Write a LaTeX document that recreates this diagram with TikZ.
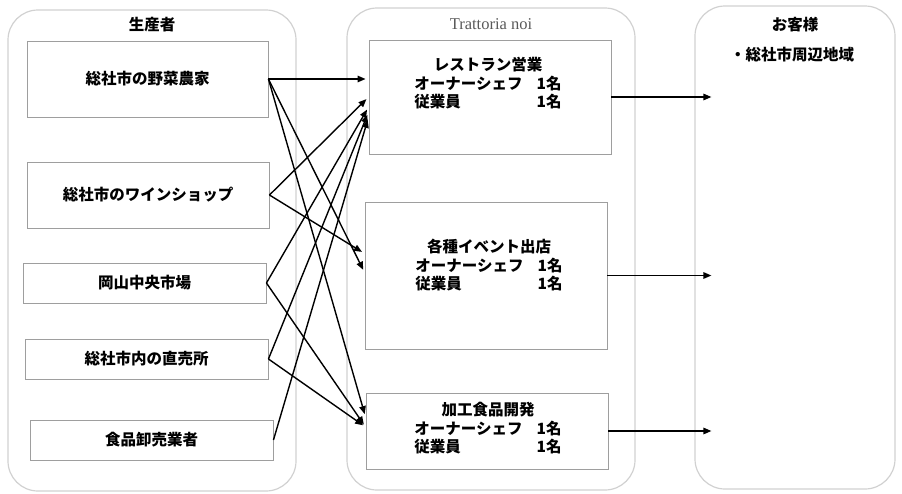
\documentclass[tikz,border=0pt]{standalone}
\usepackage{fontspec}
\setmainfont{Liberation Serif}
\newfontfamily\jpfont{Noto Sans CJK JP}
\usepackage{tikz}
\usetikzlibrary{calc,arrows.meta}
\def\jptext{\jpfont\bfseries\fontsize{15.5}{16.5}\selectfont}

\tikzset{
	group/.style={draw=black!18, line width=1.2pt, rounded corners=30pt},
	srcbox/.style={draw=black!38, line width=0.9pt, font=\jptext},
	actbox/.style={draw=black!38, line width=0.9pt, minimum width=242pt},
	flow/.style={line width=1.4pt, shorten >=3pt, -{Triangle[length=8pt,width=6.5pt]}}
}

\begin{document}
\begin{tikzpicture}[x=1pt, y=-1pt]
			%%%%% START %%%%%
			\useasboundingbox (0, 0) rectangle (902, 493);
			
			\node[group, minimum width=288pt, minimum height=481pt] (prod) at (152, 250.5) {};
			\node[group, minimum width=288pt, minimum height=482pt] (shop) at (491, 249) {};
			\node[group, minimum width=200pt, minimum height=483pt] (cust) at (795, 247.5) {};
			
			\node[font=\jptext] (prodTitle) at (152, 25) {生産者};
			\node[font=\fontsize{16.5}{18}\selectfont, text=black!65] (shopTitle) at (491, 24) {Trattoria noi};
			\node[font=\jptext] (custTitle) at (795, 25) {お客様};
			\node[font=\jptext] (custArea) at (792, 55) {・総社市周辺地域};
			
			\node[srcbox, minimum width=241pt, minimum height=76pt] (farm) at (147.5, 79) {総社市の野菜農家};
			\node[srcbox, minimum width=242pt, minimum height=66pt] (wine) at (148, 195) {総社市のワインショップ};
			\node[srcbox, minimum width=243pt, minimum height=40pt] (market) at (144.5, 283) {岡山中央市場};
			\node[srcbox, minimum width=243pt, minimum height=40pt] (direct) at (146.5, 359) {総社市内の直売所};
			\node[srcbox, minimum width=243pt, minimum height=40pt] (whole) at (151.5, 440) {食品卸売業者};
			
			\node[actbox, minimum height=114pt] (rest) at (490, 97) {};
			\node[actbox, minimum height=147pt] (event) at (486, 275.5) {};
			\node[actbox, minimum height=76pt] (proc) at (487, 431) {};
			
			\node[font=\jptext] (restTxt) at (488, 85) {\begin{tabular}{@{}l@{\hspace{14pt}}l@{}}
				\multicolumn{2}{c}{レストラン営業}\\ オーナーシェフ & 1名\\ 従業員 & 1名\end{tabular}};
			\node[font=\jptext] (eventTxt) at (489, 267) {\begin{tabular}{@{}l@{\hspace{14pt}}l@{}}
				\multicolumn{2}{c}{各種イベント出店}\\ オーナーシェフ & 1名\\ 従業員 & 1名\end{tabular}};
			\node[font=\jptext] (procTxt) at (488, 430) {\begin{tabular}{@{}l@{\hspace{14pt}}l@{}}
				\multicolumn{2}{c}{加工食品開発}\\ オーナーシェフ & 1名\\ 従業員 & 1名\end{tabular}};
			
			\draw[flow] (farm.east) -- (farm.east -| rest.west);
			\draw[flow] (farm.east) -- ([yshift=3pt]event.west);
			\draw[flow] (farm.east) -- ([yshift=14pt]proc.west);
			\draw[flow] (wine.east) -- (rest.west);
			\draw[flow] (wine.east) -- ([yshift=22pt]event.west);
			\draw[flow] (market.east) -- ([yshift=-10pt]rest.west);
			\draw[flow] (market.east) -- ([yshift=4pt]proc.west);
			\draw[flow] (direct.east) -- ([yshift=-15pt]rest.west);
			\draw[flow] (direct.east) -- ([yshift=4pt]proc.west);
			\draw[flow] (whole.east) -- ([yshift=-20pt]rest.west);
			
			\draw[flow] (rest.east) -- ($(rest.east -| cust.west)+(20, 0)$);
			\draw[flow] (event.east) -- ($(event.east -| cust.west)+(20, 0)$);
			\draw[flow] (proc.east) -- ($(proc.east -| cust.west)+(20, 0)$);
			
			%%%%% END %%%%%
		\end{tikzpicture}
\end{document}
